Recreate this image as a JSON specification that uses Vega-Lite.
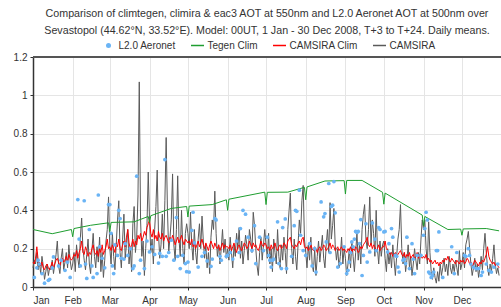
{
"$schema":"https://vega.github.io/schema/vega-lite/v6.json",
"width":468,"height":230,
"autosize":{"type":"none"},
"padding":{"left":33,"top":57,"right":0,"bottom":20},
"title":{"text":["Comparison of climtegen, climira & eac3 AOT at 550nm and L2.0 Aeronet AOT at 500nm over","Sevastopol (44.62°N, 33.52°E). Model: 00UT, 1 Jan - 30 Dec 2008, T+3 to T+24. Daily means."],"anchor":"middle","frame":"group","fontSize":10.7,"fontWeight":"normal","color":"#333","font":"Liberation Sans","lineHeight":16.5,"offset":4},
"config":{"font":"Liberation Sans","view":{"stroke":null},
"axis":{"labelFont":"Liberation Sans","labelFontSize":10,"labelColor":"#333","domainColor":"#333","domainWidth":1.5,"tickColor":"#333","tickSize":3,"gridColor":"#e5e5e5","gridWidth":1,"title":null,"labelOverlap":false}},
"datasets":{
"daily":[
{"d":"2008-01-01","c":0.10,"r":0.13},{"d":"2008-01-02","c":0.14,"r":0.12},{"d":"2008-01-03","c":0.12,"r":0.15},{"d":"2008-01-04","c":0.18,"r":0.21},{"d":"2008-01-05","c":0.09,"r":0.14},{"d":"2008-01-06","c":0.13,"r":0.12},{"d":"2008-01-07","c":0.07,"r":0.11},{"d":"2008-01-08","c":0.16,"r":0.13},{"d":"2008-01-09","c":0.11,"r":0.10},{"d":"2008-01-10","c":0.04,"r":0.09},{"d":"2008-01-11","c":0.08,"r":0.11},{"d":"2008-01-12","c":0.12,"r":0.12},{"d":"2008-01-13","c":0.06,"r":0.10},{"d":"2008-01-14","c":0.10,"r":0.09},{"d":"2008-01-15","c":0.09,"r":0.11},{"d":"2008-01-16","c":0.14,"r":0.13},{"d":"2008-01-17","c":0.07,"r":0.10},{"d":"2008-01-18","c":0.12,"r":0.12},{"d":"2008-01-19","c":0.17,"r":0.14},{"d":"2008-01-20","c":0.24,"r":0.15},{"d":"2008-01-21","c":0.11,"r":0.13},{"d":"2008-01-22","c":0.07,"r":0.11},{"d":"2008-01-23","c":0.15,"r":0.14},{"d":"2008-01-24","c":0.20,"r":0.15},{"d":"2008-01-25","c":0.09,"r":0.13},{"d":"2008-01-26","c":0.13,"r":0.14},{"d":"2008-01-27","c":0.18,"r":0.16},{"d":"2008-01-28","c":0.10,"r":0.13},{"d":"2008-01-29","c":0.22,"r":0.17},{"d":"2008-01-30","c":0.14,"r":0.15},{"d":"2008-01-31","c":0.09,"r":0.14},
{"d":"2008-02-01","c":0.12,"r":0.15},{"d":"2008-02-02","c":0.18,"r":0.17},{"d":"2008-02-03","c":0.08,"r":0.16},{"d":"2008-02-04","c":0.22,"r":0.19},{"d":"2008-02-05","c":0.15,"r":0.15},{"d":"2008-02-06","c":0.10,"r":0.18},{"d":"2008-02-07","c":0.26,"r":0.20},{"d":"2008-02-08","c":0.36,"r":0.24},{"d":"2008-02-09","c":0.20,"r":0.18},{"d":"2008-02-10","c":0.14,"r":0.17},{"d":"2008-02-11","c":0.09,"r":0.21},{"d":"2008-02-12","c":0.17,"r":0.19},{"d":"2008-02-13","c":0.25,"r":0.16},{"d":"2008-02-14","c":0.12,"r":0.18},{"d":"2008-02-15","c":0.07,"r":0.17},{"d":"2008-02-16","c":0.19,"r":0.20},{"d":"2008-02-17","c":0.28,"r":0.22},{"d":"2008-02-18","c":0.16,"r":0.18},{"d":"2008-02-19","c":0.10,"r":0.17},{"d":"2008-02-20","c":0.21,"r":0.19},{"d":"2008-02-21","c":0.13,"r":0.16},{"d":"2008-02-22","c":0.26,"r":0.20},{"d":"2008-02-23","c":0.08,"r":0.18},{"d":"2008-02-24","c":0.18,"r":0.22},{"d":"2008-02-25","c":0.05,"r":0.17},{"d":"2008-02-26","c":0.14,"r":0.19},{"d":"2008-02-27","c":0.24,"r":0.21},{"d":"2008-02-28","c":0.30,"r":0.25},{"d":"2008-02-29","c":0.47,"r":0.20},
{"d":"2008-03-01","c":0.20,"r":0.21},{"d":"2008-03-02","c":0.12,"r":0.19},{"d":"2008-03-03","c":0.28,"r":0.22},{"d":"2008-03-04","c":0.16,"r":0.20},{"d":"2008-03-05","c":0.09,"r":0.18},{"d":"2008-03-06","c":0.22,"r":0.23},{"d":"2008-03-07","c":0.35,"r":0.21},{"d":"2008-03-08","c":0.45,"r":0.25},{"d":"2008-03-09","c":0.18,"r":0.20},{"d":"2008-03-10","c":0.10,"r":0.19},{"d":"2008-03-11","c":0.25,"r":0.22},{"d":"2008-03-12","c":0.38,"r":0.24},{"d":"2008-03-13","c":0.15,"r":0.21},{"d":"2008-03-14","c":0.22,"r":0.26},{"d":"2008-03-15","c":0.30,"r":0.30},{"d":"2008-03-16","c":0.12,"r":0.23},{"d":"2008-03-17","c":0.20,"r":0.20},{"d":"2008-03-18","c":0.08,"r":0.22},{"d":"2008-03-19","c":0.33,"r":0.25},{"d":"2008-03-20","c":0.42,"r":0.21},{"d":"2008-03-21","c":0.18,"r":0.24},{"d":"2008-03-22","c":0.26,"r":0.22},{"d":"2008-03-23","c":0.48,"r":0.27},{"d":"2008-03-24","c":1.07,"r":0.25},{"d":"2008-03-25","c":0.35,"r":0.28},{"d":"2008-03-26","c":0.16,"r":0.24},{"d":"2008-03-27","c":0.24,"r":0.26},{"d":"2008-03-28","c":0.06,"r":0.29},{"d":"2008-03-29","c":0.20,"r":0.27},{"d":"2008-03-30","c":0.32,"r":0.31},{"d":"2008-03-31","c":0.60,"r":0.33},
{"d":"2008-04-01","c":0.35,"r":0.35},{"d":"2008-04-02","c":0.18,"r":0.28},{"d":"2008-04-03","c":0.25,"r":0.26},{"d":"2008-04-04","c":0.12,"r":0.30},{"d":"2008-04-05","c":0.30,"r":0.25},{"d":"2008-04-06","c":0.42,"r":0.27},{"d":"2008-04-07","c":0.61,"r":0.24},{"d":"2008-04-08","c":0.28,"r":0.29},{"d":"2008-04-09","c":0.15,"r":0.26},{"d":"2008-04-10","c":0.22,"r":0.25},{"d":"2008-04-11","c":0.38,"r":0.28},{"d":"2008-04-12","c":0.20,"r":0.24},{"d":"2008-04-13","c":0.45,"r":0.26},{"d":"2008-04-14","c":0.78,"r":0.27},{"d":"2008-04-15","c":0.40,"r":0.25},{"d":"2008-04-16","c":0.18,"r":0.23},{"d":"2008-04-17","c":0.26,"r":0.26},{"d":"2008-04-18","c":0.35,"r":0.24},{"d":"2008-04-19","c":0.59,"r":0.27},{"d":"2008-04-20","c":0.22,"r":0.25},{"d":"2008-04-21","c":0.14,"r":0.22},{"d":"2008-04-22","c":0.30,"r":0.24},{"d":"2008-04-23","c":0.58,"r":0.26},{"d":"2008-04-24","c":0.25,"r":0.23},{"d":"2008-04-25","c":0.16,"r":0.25},{"d":"2008-04-26","c":0.40,"r":0.27},{"d":"2008-04-27","c":0.20,"r":0.24},{"d":"2008-04-28","c":0.12,"r":0.22},{"d":"2008-04-29","c":0.28,"r":0.25},{"d":"2008-04-30","c":0.33,"r":0.24},
{"d":"2008-05-01","c":0.28,"r":0.23},{"d":"2008-05-02","c":0.20,"r":0.24},{"d":"2008-05-03","c":0.39,"r":0.22},{"d":"2008-05-04","c":0.22,"r":0.25},{"d":"2008-05-05","c":0.14,"r":0.21},{"d":"2008-05-06","c":0.30,"r":0.23},{"d":"2008-05-07","c":0.18,"r":0.20},{"d":"2008-05-08","c":0.12,"r":0.22},{"d":"2008-05-09","c":0.25,"r":0.24},{"d":"2008-05-10","c":0.33,"r":0.21},{"d":"2008-05-11","c":0.20,"r":0.23},{"d":"2008-05-12","c":0.37,"r":0.25},{"d":"2008-05-13","c":0.24,"r":0.22},{"d":"2008-05-14","c":0.15,"r":0.20},{"d":"2008-05-15","c":0.22,"r":0.23},{"d":"2008-05-16","c":0.10,"r":0.21},{"d":"2008-05-17","c":0.18,"r":0.19},{"d":"2008-05-18","c":0.07,"r":0.22},{"d":"2008-05-19","c":0.26,"r":0.24},{"d":"2008-05-20","c":0.35,"r":0.22},{"d":"2008-05-21","c":0.30,"r":0.20},{"d":"2008-05-22","c":0.50,"r":0.23},{"d":"2008-05-23","c":0.28,"r":0.21},{"d":"2008-05-24","c":0.16,"r":0.20},{"d":"2008-05-25","c":0.22,"r":0.22},{"d":"2008-05-26","c":0.12,"r":0.19},{"d":"2008-05-27","c":0.20,"r":0.21},{"d":"2008-05-28","c":0.30,"r":0.23},{"d":"2008-05-29","c":0.18,"r":0.20},{"d":"2008-05-30","c":0.25,"r":0.22},{"d":"2008-05-31","c":0.15,"r":0.21},
{"d":"2008-06-01","c":0.20,"r":0.21},{"d":"2008-06-02","c":0.14,"r":0.20},{"d":"2008-06-03","c":0.26,"r":0.22},{"d":"2008-06-04","c":0.18,"r":0.19},{"d":"2008-06-05","c":0.10,"r":0.21},{"d":"2008-06-06","c":0.22,"r":0.23},{"d":"2008-06-07","c":0.16,"r":0.20},{"d":"2008-06-08","c":0.28,"r":0.18},{"d":"2008-06-09","c":0.20,"r":0.21},{"d":"2008-06-10","c":0.31,"r":0.22},{"d":"2008-06-11","c":0.15,"r":0.20},{"d":"2008-06-12","c":0.24,"r":0.19},{"d":"2008-06-13","c":0.12,"r":0.21},{"d":"2008-06-14","c":0.19,"r":0.23},{"d":"2008-06-15","c":0.27,"r":0.22},{"d":"2008-06-16","c":0.22,"r":0.20},{"d":"2008-06-17","c":0.14,"r":0.21},{"d":"2008-06-18","c":0.30,"r":0.24},{"d":"2008-06-19","c":0.25,"r":0.22},{"d":"2008-06-20","c":0.18,"r":0.20},{"d":"2008-06-21","c":0.39,"r":0.23},{"d":"2008-06-22","c":0.32,"r":0.21},{"d":"2008-06-23","c":0.20,"r":0.22},{"d":"2008-06-24","c":0.11,"r":0.20},{"d":"2008-06-25","c":0.06,"r":0.19},{"d":"2008-06-26","c":0.18,"r":0.21},{"d":"2008-06-27","c":0.26,"r":0.24},{"d":"2008-06-28","c":0.14,"r":0.22},{"d":"2008-06-29","c":0.22,"r":0.21},{"d":"2008-06-30","c":0.30,"r":0.23},
{"d":"2008-07-01","c":0.22,"r":0.22},{"d":"2008-07-02","c":0.15,"r":0.20},{"d":"2008-07-03","c":0.28,"r":0.21},{"d":"2008-07-04","c":0.12,"r":0.19},{"d":"2008-07-05","c":0.20,"r":0.22},{"d":"2008-07-06","c":0.08,"r":0.20},{"d":"2008-07-07","c":0.25,"r":0.21},{"d":"2008-07-08","c":0.18,"r":0.23},{"d":"2008-07-09","c":0.12,"r":0.20},{"d":"2008-07-10","c":0.30,"r":0.19},{"d":"2008-07-11","c":0.16,"r":0.21},{"d":"2008-07-12","c":0.10,"r":0.22},{"d":"2008-07-13","c":0.22,"r":0.20},{"d":"2008-07-14","c":0.14,"r":0.21},{"d":"2008-07-15","c":0.26,"r":0.23},{"d":"2008-07-16","c":0.18,"r":0.22},{"d":"2008-07-17","c":0.07,"r":0.20},{"d":"2008-07-18","c":0.30,"r":0.24},{"d":"2008-07-19","c":0.40,"r":0.25},{"d":"2008-07-20","c":0.49,"r":0.26},{"d":"2008-07-21","c":0.20,"r":0.22},{"d":"2008-07-22","c":0.12,"r":0.21},{"d":"2008-07-23","c":0.25,"r":0.20},{"d":"2008-07-24","c":0.16,"r":0.22},{"d":"2008-07-25","c":0.09,"r":0.21},{"d":"2008-07-26","c":0.22,"r":0.23},{"d":"2008-07-27","c":0.35,"r":0.24},{"d":"2008-07-28","c":0.28,"r":0.22},{"d":"2008-07-29","c":0.45,"r":0.25},{"d":"2008-07-30","c":0.53,"r":0.26},{"d":"2008-07-31","c":0.25,"r":0.21},
{"d":"2008-08-01","c":0.18,"r":0.20},{"d":"2008-08-02","c":0.10,"r":0.21},{"d":"2008-08-03","c":0.22,"r":0.19},{"d":"2008-08-04","c":0.14,"r":0.20},{"d":"2008-08-05","c":0.26,"r":0.22},{"d":"2008-08-06","c":0.12,"r":0.20},{"d":"2008-08-07","c":0.08,"r":0.19},{"d":"2008-08-08","c":0.20,"r":0.21},{"d":"2008-08-09","c":0.06,"r":0.20},{"d":"2008-08-10","c":0.16,"r":0.18},{"d":"2008-08-11","c":0.24,"r":0.20},{"d":"2008-08-12","c":0.13,"r":0.21},{"d":"2008-08-13","c":0.20,"r":0.19},{"d":"2008-08-14","c":0.27,"r":0.20},{"d":"2008-08-15","c":0.15,"r":0.22},{"d":"2008-08-16","c":0.10,"r":0.21},{"d":"2008-08-17","c":0.22,"r":0.19},{"d":"2008-08-18","c":0.30,"r":0.20},{"d":"2008-08-19","c":0.18,"r":0.21},{"d":"2008-08-20","c":0.44,"r":0.23},{"d":"2008-08-21","c":0.25,"r":0.20},{"d":"2008-08-22","c":0.32,"r":0.22},{"d":"2008-08-23","c":0.41,"r":0.21},{"d":"2008-08-24","c":0.22,"r":0.19},{"d":"2008-08-25","c":0.14,"r":0.20},{"d":"2008-08-26","c":0.20,"r":0.21},{"d":"2008-08-27","c":0.10,"r":0.19},{"d":"2008-08-28","c":0.16,"r":0.20},{"d":"2008-08-29","c":0.26,"r":0.21},{"d":"2008-08-30","c":0.12,"r":0.19},{"d":"2008-08-31","c":0.20,"r":0.20},
{"d":"2008-09-01","c":0.15,"r":0.19},{"d":"2008-09-02","c":0.06,"r":0.18},{"d":"2008-09-03","c":0.12,"r":0.20},{"d":"2008-09-04","c":0.20,"r":0.19},{"d":"2008-09-05","c":0.10,"r":0.21},{"d":"2008-09-06","c":0.24,"r":0.18},{"d":"2008-09-07","c":0.16,"r":0.20},{"d":"2008-09-08","c":0.08,"r":0.19},{"d":"2008-09-09","c":0.18,"r":0.21},{"d":"2008-09-10","c":0.28,"r":0.20},{"d":"2008-09-11","c":0.14,"r":0.18},{"d":"2008-09-12","c":0.22,"r":0.19},{"d":"2008-09-13","c":0.12,"r":0.21},{"d":"2008-09-14","c":0.30,"r":0.20},{"d":"2008-09-15","c":0.38,"r":0.22},{"d":"2008-09-16","c":0.43,"r":0.23},{"d":"2008-09-17","c":0.25,"r":0.24},{"d":"2008-09-18","c":0.20,"r":0.26},{"d":"2008-09-19","c":0.30,"r":0.22},{"d":"2008-09-20","c":0.47,"r":0.21},{"d":"2008-09-21","c":0.22,"r":0.23},{"d":"2008-09-22","c":0.35,"r":0.20},{"d":"2008-09-23","c":0.28,"r":0.22},{"d":"2008-09-24","c":0.16,"r":0.21},{"d":"2008-09-25","c":0.40,"r":0.19},{"d":"2008-09-26","c":0.20,"r":0.20},{"d":"2008-09-27","c":0.12,"r":0.22},{"d":"2008-09-28","c":0.24,"r":0.19},{"d":"2008-09-29","c":0.16,"r":0.20},{"d":"2008-09-30","c":0.22,"r":0.21},
{"d":"2008-10-01","c":0.24,"r":0.21},{"d":"2008-10-02","c":0.15,"r":0.24},{"d":"2008-10-03","c":0.08,"r":0.20},{"d":"2008-10-04","c":0.20,"r":0.19},{"d":"2008-10-05","c":0.12,"r":0.18},{"d":"2008-10-06","c":0.18,"r":0.17},{"d":"2008-10-07","c":0.10,"r":0.18},{"d":"2008-10-08","c":0.22,"r":0.16},{"d":"2008-10-09","c":0.14,"r":0.17},{"d":"2008-10-10","c":0.06,"r":0.18},{"d":"2008-10-11","c":0.16,"r":0.16},{"d":"2008-10-12","c":0.25,"r":0.17},{"d":"2008-10-13","c":0.30,"r":0.18},{"d":"2008-10-14","c":0.43,"r":0.19},{"d":"2008-10-15","c":0.20,"r":0.17},{"d":"2008-10-16","c":0.12,"r":0.16},{"d":"2008-10-17","c":0.18,"r":0.18},{"d":"2008-10-18","c":0.08,"r":0.15},{"d":"2008-10-19","c":0.14,"r":0.17},{"d":"2008-10-20","c":0.22,"r":0.16},{"d":"2008-10-21","c":0.10,"r":0.18},{"d":"2008-10-22","c":0.16,"r":0.15},{"d":"2008-10-23","c":0.06,"r":0.16},{"d":"2008-10-24","c":0.12,"r":0.17},{"d":"2008-10-25","c":0.20,"r":0.15},{"d":"2008-10-26","c":0.14,"r":0.16},{"d":"2008-10-27","c":0.09,"r":0.18},{"d":"2008-10-28","c":0.18,"r":0.15},{"d":"2008-10-29","c":0.12,"r":0.17},{"d":"2008-10-30","c":0.25,"r":0.16},{"d":"2008-10-31","c":0.35,"r":0.15},
{"d":"2008-11-01","c":0.30,"r":0.16},{"d":"2008-11-02","c":0.35,"r":0.15},{"d":"2008-11-03","c":0.20,"r":0.17},{"d":"2008-11-04","c":0.12,"r":0.14},{"d":"2008-11-05","c":0.34,"r":0.15},{"d":"2008-11-06","c":0.18,"r":0.13},{"d":"2008-11-07","c":0.08,"r":0.14},{"d":"2008-11-08","c":0.04,"r":0.12},{"d":"2008-11-09","c":0.10,"r":0.13},{"d":"2008-11-10","c":0.05,"r":0.14},{"d":"2008-11-11","c":0.02,"r":0.12},{"d":"2008-11-12","c":0.08,"r":0.13},{"d":"2008-11-13","c":0.03,"r":0.11},{"d":"2008-11-14","c":0.12,"r":0.13},{"d":"2008-11-15","c":0.06,"r":0.12},{"d":"2008-11-16","c":0.10,"r":0.14},{"d":"2008-11-17","c":0.15,"r":0.13},{"d":"2008-11-18","c":0.08,"r":0.15},{"d":"2008-11-19","c":0.12,"r":0.14},{"d":"2008-11-20","c":0.06,"r":0.16},{"d":"2008-11-21","c":0.16,"r":0.14},{"d":"2008-11-22","c":0.10,"r":0.13},{"d":"2008-11-23","c":0.07,"r":0.15},{"d":"2008-11-24","c":0.12,"r":0.14},{"d":"2008-11-25","c":0.08,"r":0.13},{"d":"2008-11-26","c":0.14,"r":0.12},{"d":"2008-11-27","c":0.10,"r":0.14},{"d":"2008-11-28","c":0.06,"r":0.13},{"d":"2008-11-29","c":0.19,"r":0.12},{"d":"2008-11-30","c":0.09,"r":0.14},
{"d":"2008-12-01","c":0.12,"r":0.13},{"d":"2008-12-02","c":0.18,"r":0.14},{"d":"2008-12-03","c":0.10,"r":0.12},{"d":"2008-12-04","c":0.22,"r":0.13},{"d":"2008-12-05","c":0.25,"r":0.15},{"d":"2008-12-06","c":0.29,"r":0.14},{"d":"2008-12-07","c":0.20,"r":0.12},{"d":"2008-12-08","c":0.12,"r":0.13},{"d":"2008-12-09","c":0.06,"r":0.11},{"d":"2008-12-10","c":0.10,"r":0.12},{"d":"2008-12-11","c":0.15,"r":0.14},{"d":"2008-12-12","c":0.08,"r":0.13},{"d":"2008-12-13","c":0.12,"r":0.12},{"d":"2008-12-14","c":0.05,"r":0.11},{"d":"2008-12-15","c":0.10,"r":0.13},{"d":"2008-12-16","c":0.16,"r":0.12},{"d":"2008-12-17","c":0.09,"r":0.14},{"d":"2008-12-18","c":0.20,"r":0.13},{"d":"2008-12-19","c":0.28,"r":0.15},{"d":"2008-12-20","c":0.18,"r":0.17},{"d":"2008-12-21","c":0.10,"r":0.21},{"d":"2008-12-22","c":0.06,"r":0.16},{"d":"2008-12-23","c":0.12,"r":0.14},{"d":"2008-12-24","c":0.08,"r":0.13},{"d":"2008-12-25","c":0.15,"r":0.12},{"d":"2008-12-26","c":0.22,"r":0.13},{"d":"2008-12-27","c":0.12,"r":0.11},{"d":"2008-12-28","c":0.07,"r":0.12},{"d":"2008-12-29","c":0.10,"r":0.11},{"d":"2008-12-30","c":0.06,"r":0.10}
],
"tegen":[
{"d":"2008-01-01","v":0.30},{"d":"2008-01-16","v":0.278},{"d":"2008-01-31","v":0.30},{"d":"2008-02-01","v":0.262},{"d":"2008-02-02","v":0.305},{"d":"2008-02-15","v":0.322},{"d":"2008-02-29","v":0.335},{"d":"2008-03-01","v":0.29},{"d":"2008-03-02","v":0.337},{"d":"2008-03-20","v":0.34},{"d":"2008-03-31","v":0.368},{"d":"2008-04-01","v":0.335},{"d":"2008-04-02","v":0.372},{"d":"2008-04-18","v":0.41},{"d":"2008-04-30","v":0.42},{"d":"2008-05-01","v":0.365},{"d":"2008-05-02","v":0.422},{"d":"2008-05-20","v":0.43},{"d":"2008-05-31","v":0.455},{"d":"2008-06-01","v":0.40},{"d":"2008-06-02","v":0.458},{"d":"2008-06-30","v":0.495},{"d":"2008-07-01","v":0.43},{"d":"2008-07-02","v":0.494},{"d":"2008-07-18","v":0.495},{"d":"2008-07-31","v":0.52},{"d":"2008-08-01","v":0.455},{"d":"2008-08-02","v":0.522},{"d":"2008-08-16","v":0.553},{"d":"2008-08-31","v":0.555},{"d":"2008-09-01","v":0.485},{"d":"2008-09-02","v":0.556},{"d":"2008-09-14","v":0.556},{"d":"2008-09-30","v":0.494},{"d":"2008-10-01","v":0.432},{"d":"2008-10-02","v":0.49},{"d":"2008-10-31","v":0.375},{"d":"2008-11-01","v":0.318},{"d":"2008-11-02","v":0.368},{"d":"2008-11-20","v":0.30},{"d":"2008-11-30","v":0.302},{"d":"2008-12-01","v":0.27},{"d":"2008-12-02","v":0.303},{"d":"2008-12-20","v":0.305},{"d":"2008-12-30","v":0.293}
],
"aero":[
{"d":"2008-01-02","v":0.05},{"d":"2008-01-04","v":0.10},{"d":"2008-01-05","v":0.14},{"d":"2008-01-06","v":0.12},{"d":"2008-01-08","v":0.07},{"d":"2008-01-10","v":0.02},{"d":"2008-01-13","v":0.035},{"d":"2008-01-14","v":0.04},{"d":"2008-01-16","v":0.10},{"d":"2008-01-17","v":0.157},{"d":"2008-01-21","v":0.11},{"d":"2008-01-23","v":0.14},{"d":"2008-01-26","v":0.087},{"d":"2008-01-28","v":0.13},{"d":"2008-01-30","v":0.05},
{"d":"2008-02-05","v":0.456},{"d":"2008-02-06","v":0.25},{"d":"2008-02-07","v":0.11},{"d":"2008-02-10","v":0.45},{"d":"2008-02-11","v":0.12},{"d":"2008-02-12","v":0.045},{"d":"2008-02-14","v":0.30},{"d":"2008-02-16","v":0.11},{"d":"2008-02-17","v":0.05},{"d":"2008-02-20","v":0.07},{"d":"2008-02-21","v":0.48},{"d":"2008-02-22","v":0.21},{"d":"2008-02-24","v":0.15},{"d":"2008-02-26","v":0.10},{"d":"2008-02-29","v":0.43},
{"d":"2008-03-01","v":0.43},{"d":"2008-03-02","v":0.28},{"d":"2008-03-03","v":0.11},{"d":"2008-03-04","v":0.07},{"d":"2008-03-05","v":0.22},{"d":"2008-03-07","v":0.165},{"d":"2008-03-08","v":0.40},{"d":"2008-03-09","v":0.357},{"d":"2008-03-10","v":0.15},{"d":"2008-03-12","v":0.146},{"d":"2008-03-13","v":0.226},{"d":"2008-03-15","v":0.165},{"d":"2008-03-17","v":0.20},{"d":"2008-03-19","v":0.096},{"d":"2008-03-20","v":0.11},{"d":"2008-03-22","v":0.578},{"d":"2008-03-24","v":0.07},{"d":"2008-03-25","v":0.14},{"d":"2008-03-28","v":0.096},{"d":"2008-03-30","v":0.24},
{"d":"2008-04-01","v":0.183},{"d":"2008-04-03","v":0.21},{"d":"2008-04-05","v":0.17},{"d":"2008-04-08","v":0.125},{"d":"2008-04-09","v":0.175},{"d":"2008-04-11","v":0.16},{"d":"2008-04-13","v":0.665},{"d":"2008-04-14","v":0.16},{"d":"2008-04-16","v":0.18},{"d":"2008-04-18","v":0.244},{"d":"2008-04-20","v":0.14},{"d":"2008-04-22","v":0.362},{"d":"2008-04-23","v":0.16},{"d":"2008-04-25","v":0.096},{"d":"2008-04-27","v":0.165},{"d":"2008-04-29","v":0.122},{"d":"2008-04-30","v":0.08},
{"d":"2008-05-01","v":0.13},{"d":"2008-05-02","v":0.078},{"d":"2008-05-04","v":0.296},{"d":"2008-05-05","v":0.39},{"d":"2008-05-06","v":0.23},{"d":"2008-05-09","v":0.104},{"d":"2008-05-12","v":0.16},{"d":"2008-05-14","v":0.18},{"d":"2008-05-16","v":0.136},{"d":"2008-05-19","v":0.108},{"d":"2008-05-20","v":0.146},{"d":"2008-05-22","v":0.357},{"d":"2008-05-23","v":0.35},{"d":"2008-05-26","v":0.16},{"d":"2008-05-27","v":0.14},{"d":"2008-05-31","v":0.16},
{"d":"2008-06-01","v":0.165},{"d":"2008-06-03","v":0.18},{"d":"2008-06-05","v":0.146},{"d":"2008-06-08","v":0.24},{"d":"2008-06-10","v":0.18},{"d":"2008-06-11","v":0.305},{"d":"2008-06-13","v":0.40},{"d":"2008-06-15","v":0.38},{"d":"2008-06-17","v":0.26},{"d":"2008-06-20","v":0.19},{"d":"2008-06-22","v":0.32},{"d":"2008-06-23","v":0.122},{"d":"2008-06-26","v":0.26},{"d":"2008-06-29","v":0.19},
{"d":"2008-07-02","v":0.26},{"d":"2008-07-03","v":0.165},{"d":"2008-07-04","v":0.14},{"d":"2008-07-05","v":0.104},{"d":"2008-07-06","v":0.14},{"d":"2008-07-07","v":0.146},{"d":"2008-07-10","v":0.34},{"d":"2008-07-11","v":0.122},{"d":"2008-07-13","v":0.096},{"d":"2008-07-14","v":0.31},{"d":"2008-07-16","v":0.355},{"d":"2008-07-17","v":0.096},{"d":"2008-07-21","v":0.16},{"d":"2008-07-23","v":0.32},{"d":"2008-07-24","v":0.40},{"d":"2008-07-25","v":0.395},{"d":"2008-07-27","v":0.505},{"d":"2008-07-28","v":0.27},{"d":"2008-07-30","v":0.19},
{"d":"2008-08-01","v":0.165},{"d":"2008-08-04","v":0.226},{"d":"2008-08-06","v":0.11},{"d":"2008-08-08","v":0.20},{"d":"2008-08-09","v":0.078},{"d":"2008-08-13","v":0.444},{"d":"2008-08-15","v":0.366},{"d":"2008-08-16","v":0.383},{"d":"2008-08-17","v":0.235},{"d":"2008-08-19","v":0.54},{"d":"2008-08-20","v":0.18},{"d":"2008-08-21","v":0.42},{"d":"2008-08-22","v":0.427},{"d":"2008-08-23","v":0.55},{"d":"2008-08-24","v":0.387},{"d":"2008-08-26","v":0.104},{"d":"2008-08-28","v":0.122},{"d":"2008-08-31","v":0.21},
{"d":"2008-09-02","v":0.07},{"d":"2008-09-03","v":0.087},{"d":"2008-09-04","v":0.13},{"d":"2008-09-05","v":0.18},{"d":"2008-09-06","v":0.235},{"d":"2008-09-07","v":0.21},{"d":"2008-09-08","v":0.25},{"d":"2008-09-09","v":0.29},{"d":"2008-09-10","v":0.285},{"d":"2008-09-11","v":0.29},{"d":"2008-09-12","v":0.226},{"d":"2008-09-13","v":0.352},{"d":"2008-09-14","v":0.06},{"d":"2008-09-15","v":0.165},{"d":"2008-09-17","v":0.33},{"d":"2008-09-18","v":0.13},{"d":"2008-09-20","v":0.183},{"d":"2008-09-22","v":0.334},{"d":"2008-09-24","v":0.25},{"d":"2008-09-25","v":0.19},{"d":"2008-09-27","v":0.31},{"d":"2008-09-28","v":0.30},
{"d":"2008-10-01","v":0.287},{"d":"2008-10-02","v":0.29},{"d":"2008-10-04","v":0.183},{"d":"2008-10-05","v":0.226},{"d":"2008-10-07","v":0.305},{"d":"2008-10-08","v":0.26},{"d":"2008-10-10","v":0.165},{"d":"2008-10-11","v":0.16},{"d":"2008-10-12","v":0.104},{"d":"2008-10-13","v":0.078},{"d":"2008-10-16","v":0.14},{"d":"2008-10-17","v":0.146},{"d":"2008-10-18","v":0.122},{"d":"2008-10-19","v":0.26},{"d":"2008-10-21","v":0.096},{"d":"2008-10-23","v":0.226},{"d":"2008-10-24","v":0.146},{"d":"2008-10-25","v":0.07},{"d":"2008-10-27","v":0.165},{"d":"2008-10-30","v":0.165},
{"d":"2008-11-01","v":0.27},{"d":"2008-11-02","v":0.305},{"d":"2008-11-03","v":0.39},{"d":"2008-11-04","v":0.35},{"d":"2008-11-05","v":0.078},{"d":"2008-11-06","v":0.07},{"d":"2008-11-07","v":0.05},{"d":"2008-11-08","v":0.06},{"d":"2008-11-09","v":0.078},{"d":"2008-11-11","v":0.19},{"d":"2008-11-12","v":0.19},{"d":"2008-11-13","v":0.287},{"d":"2008-11-16","v":0.05},{"d":"2008-11-23","v":0.21},{"d":"2008-11-25","v":0.07},{"d":"2008-11-27","v":0.18},
{"d":"2008-12-03","v":0.165},{"d":"2008-12-04","v":0.16},{"d":"2008-12-06","v":0.20},{"d":"2008-12-07","v":0.165},{"d":"2008-12-08","v":0.12},{"d":"2008-12-10","v":0.104},{"d":"2008-12-12","v":0.096},{"d":"2008-12-14","v":0.096},{"d":"2008-12-16","v":0.06},{"d":"2008-12-17","v":0.078},{"d":"2008-12-20","v":0.12},{"d":"2008-12-22","v":0.087},{"d":"2008-12-24","v":0.078},{"d":"2008-12-26","v":0.104},{"d":"2008-12-29","v":0.12}
]
},
"layer":[
{"data":{"name":"daily"},"mark":{"type":"line","strokeWidth":1,"interpolate":"linear"},
 "encoding":{
  "x":{"field":"d","type":"temporal","scale":{"type":"utc","domain":[{"year":2008,"month":1,"date":1,"utc":true},{"year":2008,"month":12,"date":31,"hours":12,"utc":true}]},"axis":{"format":"%b","tickCount":{"interval":"month","step":1},"grid":true,"labelPadding":5}},
  "y":{"field":"c","type":"quantitative","scale":{"domain":[0,1.2],"nice":false,"zero":true},"axis":{"tickCount":6,"format":"~g","grid":true,"labelPadding":3,"labelOverlap":false,"labelBound":false}},
  "color":{"datum":"CAMSIRA","type":"nominal","scale":{"domain":["L2.0 Aeronet","Tegen Clim","CAMSIRA Clim","CAMSIRA"],"range":["#6ab4f5","#1f9e30","#ff0000","#5a5a5a"]},
   "legend":{"orient":"none","legendX":70.5,"legendY":-16.5,"direction":"horizontal","title":null,"symbolSize":169,"labelFontSize":10,"labelFont":"Liberation Sans","labelColor":"#333","labelOffset":5,"columnPadding":11,"padding":0,
    "encode":{"symbols":{"update":{"shape":{"signal":"datum.value === 'L2.0 Aeronet' ? 'circle' : 'stroke'"},"size":{"signal":"datum.value === 'L2.0 Aeronet' ? 25 : 169"},"strokeWidth":{"signal":"datum.value === 'L2.0 Aeronet' ? 0 : 1.5"},"fill":{"scale":"color","field":"value"},"stroke":{"scale":"color","field":"value"},"opacity":{"value":1},"fillOpacity":{"value":1},"strokeOpacity":{"value":1}}}}}}
 }},
{"data":{"name":"daily"},"mark":{"type":"line","strokeWidth":1},
 "encoding":{"x":{"field":"d","type":"temporal"},"y":{"field":"r","type":"quantitative"},"color":{"datum":"CAMSIRA Clim","type":"nominal"}}},
{"data":{"name":"tegen"},"mark":{"type":"line","strokeWidth":1},
 "encoding":{"x":{"field":"d","type":"temporal"},"y":{"field":"v","type":"quantitative"},"color":{"datum":"Tegen Clim","type":"nominal"}}},
{"data":{"name":"aero"},"mark":{"type":"point","filled":true,"size":14,"opacity":1},
 "encoding":{"x":{"field":"d","type":"temporal"},"y":{"field":"v","type":"quantitative"},"color":{"datum":"L2.0 Aeronet","type":"nominal"}}},
{"data":{"values":[{}]},"mark":{"type":"rule","color":"#555","strokeWidth":2},
 "encoding":{"y":{"datum":1.2,"type":"quantitative"}}}
]
}
